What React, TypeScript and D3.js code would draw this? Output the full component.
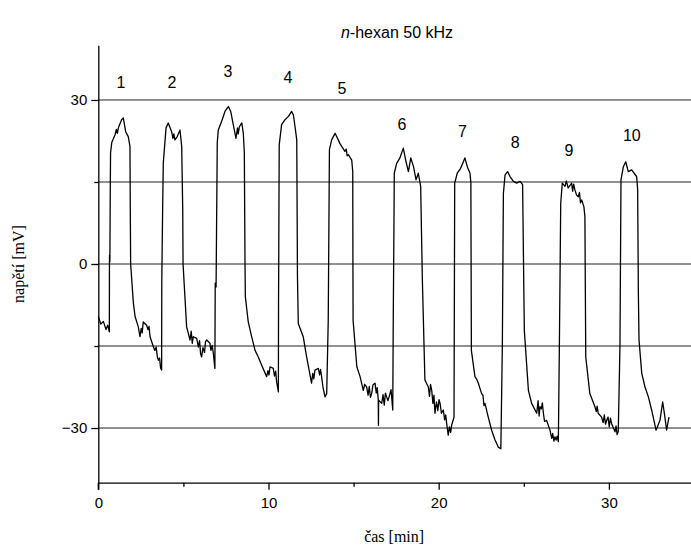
import * as React from 'react';
import {useEffect, useRef} from 'react';
import * as d3 from 'd3';

const width = 691;
const height = 548;

// trace, one array per pulse: [time min, voltage mV]
const cycle1 = [
  [0, -9.6], [0.15, -11], [0.3, -10.5], [0.45, -12], [0.55, -11.2], [0.65, -12.4], [0.655, 0], [0.66, 1.6], [0.68, 0.4],
  [0.70, 12], [0.72, 20.3], [0.79, 22.2], [0.98, 23.6], [1.06, 24.6], [1.12, 23.9], [1.18, 24.9], [1.37, 26.4], [1.47, 26.7],
  [1.61, 24.2], [1.76, 23.3], [1.86, 21.5], [1.88, 10], [1.90, 0], [2.06, -7.1], [2.16, -9.6], [2.35, -11.5], [2.45, -13.3],
  [2.52, -11.8], [2.58, -12.6], [2.64, -10.6], [2.84, -11.2], [2.92, -12.0], [2.98, -11.4], [3.04, -13.3], [3.23, -15.1],
  [3.32, -15.8], [3.40, -15.2], [3.47, -17.0], [3.53, -17.6], [3.60, -17.2], [3.66, -19.0], [3.72, -19.4]
];
const cycle2 = [
  [3.73, -3.2], [3.78, 10], [3.82, 18.5], [3.98, 24.9], [4.11, 25.8], [4.31, 24.2], [4.38, 23.0], [4.44, 23.8], [4.50, 22.7],
  [4.64, 23.3], [4.80, 24.5], [4.90, 21.5], [4.96, 10], [4.98, 0], [5.19, -11.5], [5.39, -13.9], [5.46, -12.3], [5.52, -14.5],
  [5.58, -13.3], [5.78, -13.6], [5.88, -15.2], [5.95, -14.0], [6.01, -16.4], [6.07, -17.0], [6.15, -15.3], [6.24, -16.2],
  [6.30, -14.2], [6.37, -13.9], [6.56, -14.5], [6.62, -15.8], [6.69, -14.9], [6.76, -16.4], [6.85, -19.1]
];
const cycle3 = [
  [6.87, -3.5], [6.92, -4.2], [6.99, 22.2], [7.05, 24.5], [7.25, 26.1], [7.44, 27.9], [7.64, 28.8], [7.78, 27.9], [7.93, 25.5],
  [8.0, 24.4], [8.09, 23.0], [8.18, 24.9], [8.22, 23.8], [8.29, 25.1], [8.43, 25.8], [8.52, 23.9], [8.58, 20.3], [8.62, 0],
  [8.64, -6.0], [8.81, -10.6], [9.01, -13.3], [9.21, -15.8], [9.40, -17.0], [9.60, -18.5], [9.89, -20.6], [9.97, -19.5],
  [10.03, -20.3], [10.09, -18.8], [10.28, -19.1], [10.35, -20.5], [10.42, -19.6], [10.48, -21.6], [10.58, -23.4]
];
const cycle4 = [
  [10.59, -7.1], [10.63, 21.8], [10.77, 25.5], [10.97, 26.4], [11.17, 27.0], [11.36, 27.9], [11.46, 27.3], [11.56, 25.1],
  [11.66, 22.7], [11.69, 5], [11.70, -2], [11.75, -10.9], [12.04, -13.3], [12.24, -17.0], [12.53, -21.8], [12.60, -20.0],
  [12.66, -21.0], [12.73, -19.4], [12.93, -19.1], [13.0, -20.3], [13.06, -19.3], [13.12, -20.6], [13.2, -22.5], [13.32, -24.3],
  [13.42, -23.7]
];
const cycle5 = [
  [13.51, -10.3], [13.58, 20.9], [13.71, 22.7], [13.91, 23.9], [14.10, 22.7], [14.2, 22.0], [14.30, 21.5], [14.49, 20.6],
  [14.57, 21.0], [14.62, 19.8], [14.69, 20.0], [14.89, 19.0], [14.95, 16.9], [14.96, 0], [14.97, -10.3], [15.19, -18.8],
  [15.38, -20.6], [15.57, -23.1], [15.65, -22.0], [15.77, -22.5], [15.85, -24.0], [15.92, -22.4], [15.99, -24.4], [16.06, -23.7],
  [16.14, -22.1], [16.26, -21.8], [16.33, -23.6], [16.39, -22.6], [16.45, -24.9], [16.46, -29.5], [16.47, -24.9], [16.65, -25.5],
  [16.73, -23.9], [16.80, -25.8], [16.87, -23.6], [16.94, -24.3], [17.02, -25.0], [17.14, -23.7], [17.2, -23.0], [17.30, -26.7]
];
const cycle6 = [
  [17.33, -10], [17.37, 6.8], [17.39, 16.6], [17.53, 18.4], [17.72, 19.4], [17.92, 21.2], [18.08, 18.7], [18.22, 16.9],
  [18.36, 19.4], [18.52, 17.8], [18.67, 15.4], [18.80, 16.6], [18.94, 14.2], [19.04, -2.9], [19.19, -21.2], [19.39, -22.5],
  [19.46, -24.2], [19.52, -22.0], [19.59, -23.1], [19.66, -25.5], [19.72, -24.0], [19.78, -27.3], [19.87, -25.2], [19.95, -26.8],
  [20.02, -24.8], [20.08, -25.5], [20.16, -27.3], [20.27, -26.7], [20.35, -28.5], [20.41, -27.6], [20.47, -29.2], [20.56, -31.3],
  [20.63, -29.8], [20.70, -30.8], [20.76, -29.5]
];
const cycle7 = [
  [20.90, -28], [20.94, 14.8], [21.09, 16.6], [21.29, 17.5], [21.45, 18.7], [21.54, 19.4], [21.68, 17.8], [21.84, 16.6],
  [21.89, 14.8], [21.92, -15.8], [22.13, -20.6], [22.22, -21.0], [22.33, -21.8], [22.52, -23.7], [22.6, -24.0], [22.66, -25.9],
  [22.72, -25.5], [22.91, -28.0], [23.11, -30.4], [23.31, -32.2], [23.4, -32.8], [23.50, -33.5], [23.65, -33.8]
];
const cycle8 = [
  [23.74, -15], [23.80, 12.9], [23.90, 16.3], [24.05, 16.9], [24.19, 16.0], [24.39, 15.1], [24.58, 14.8], [24.78, 15.1],
  [24.93, 14.5], [25.03, -12.1], [25.27, -23.1], [25.46, -25.5], [25.76, -27.3], [25.84, -25.0], [25.90, -27.8], [25.95, -26.1],
  [26.03, -26.5], [26.09, -25.4], [26.15, -27.3], [26.22, -28.8], [26.34, -28.6], [26.54, -30.4], [26.64, -31.9], [26.70, -31.0],
  [26.77, -32.4], [26.83, -31.6], [26.9, -32.2], [26.96, -31.5], [27.03, -32.5]
];
const cycle9 = [
  [27.09, -15], [27.17, 11.1], [27.26, 14.8], [27.42, 14.2], [27.5, 15.2], [27.61, 13.9], [27.81, 14.8], [27.87, 13.3],
  [27.93, 14.6], [28.00, 13.6], [28.1, 12.6], [28.20, 12.3], [28.27, 13.1], [28.33, 11.2], [28.40, 11.7], [28.53, 10.5],
  [28.59, 8.7], [28.64, -17.0], [28.88, -23.7], [29.18, -26.1], [29.26, -27.0], [29.31, -26.0], [29.37, -27.3], [29.57, -28.0],
  [29.66, -29.0], [29.73, -27.6], [29.80, -29.3], [29.87, -28.6], [29.95, -28.0], [30.02, -29.8], [30.09, -28.2], [30.16, -29.2],
  [30.36, -30.7], [30.42, -29.6], [30.48, -31.2], [30.55, -30.7]
];
const cycle10 = [
  [30.65, -15], [30.71, 15.4], [30.85, 17.8], [30.99, 18.7], [31.14, 16.9], [31.34, 17.2], [31.48, 16.6], [31.63, 16.0],
  [31.69, 13.6], [31.73, -5], [31.77, -13.9], [31.93, -20.0], [32.12, -22.5], [32.32, -24.3], [32.51, -26.7], [32.77, -30.4],
  [33.00, -28.6], [33.16, -25.2], [33.29, -28.0], [33.39, -30.4], [33.53, -28.0]
];

// pulse numbers and where they sit (data coords)
const pulseLabels = ['1', '2', '3', '4', '5', '6', '7', '8', '9', '10'];
const pulseLabelX = [1.33, 4.33, 7.62, 11.14, 14.32, 17.84, 21.4, 24.5, 27.65, 31.35];
const pulseLabelY = [33.3, 33.3, 35.2, 34.2, 32.2, 25.5, 24.2, 22.2, 20.7, 23.6];

const xMajor = [0, 10, 20, 30];
const xMinor = [5, 15, 25];
const yMajor = [-30, 0, 30];
const yMinor = [-15, 15];
const gridValues = [-30, -15, 0, 15, 30];

const sans = 'Arial, "Liberation Sans", sans-serif';
const serif = '"Times New Roman", "Liberation Serif", serif';

export default function App() {
  const ref = useRef<SVGSVGElement>(null);

  useEffect(() => {
    const svg = d3.select(ref.current);
    svg.selectAll('*').remove();

    const x = d3.scaleLinear().domain([0, 35]).range([98.3, 98.3 + 35 * 17.02]);
    const y = d3.scaleLinear().domain([-40, 40]).range([482.7, 45.3]);

    // grid lines
    svg.append('g')
      .selectAll('line')
      .data(gridValues)
      .join('line')
        .attr('x1', x(0))
        .attr('x2', width)
        .attr('y1', d => y(d))
        .attr('y2', d => y(d))
        .attr('stroke', '#222')
        .attr('stroke-width', 1);

    // x axis
    const gx = svg.append('g').attr('transform', `translate(0,${y(-40)})`);
    gx.call(d3.axisBottom(x).tickValues(xMajor).tickSize(7).tickSizeOuter(0).tickPadding(8) as any);
    gx.append('g').call(d3.axisBottom(x).tickValues(xMinor).tickSize(4).tickSizeOuter(0).tickFormat(() => '') as any)
      .select('.domain').remove();
    gx.selectAll('text').attr('font-family', sans).attr('font-size', 15).attr('fill', '#000');
    gx.selectAll('path,line').attr('stroke', '#000').attr('stroke-width', 1.3);

    // y axis
    const gy = svg.append('g').attr('transform', `translate(${x(0)},0)`);
    gy.call(d3.axisLeft(y).tickValues(yMajor).tickSize(7).tickSizeOuter(0).tickPadding(4) as any);
    gy.append('g').call(d3.axisLeft(y).tickValues(yMinor).tickSize(4).tickSizeOuter(0).tickFormat(() => '') as any)
      .select('.domain').remove();
    gy.selectAll('text').attr('font-family', sans).attr('font-size', 15).attr('fill', '#000');
    gy.selectAll('path,line').attr('stroke', '#000').attr('stroke-width', 1.3);
    // tick below the origin
    gy.append('line')
      .attr('x1', 0).attr('x2', 0)
      .attr('y1', y(-40)).attr('y2', y(-40) + 7)
      .attr('stroke', '#000').attr('stroke-width', 1.3);

    // signal trace
    const pts = [cycle1, cycle2, cycle3, cycle4, cycle5, cycle6, cycle7, cycle8, cycle9, cycle10]
      .flat() as [number, number][];
    const line = d3.line<[number, number]>().x(d => x(d[0])).y(d => y(d[1]));
    svg.append('path')
      .datum(pts)
      .attr('d', line)
      .attr('fill', 'none')
      .attr('stroke', '#000')
      .attr('stroke-width', 1.3)
      .attr('stroke-linejoin', 'round');

    // pulse numbers
    svg.append('g')
      .selectAll('text')
      .data(pulseLabels)
      .join('text')
        .attr('x', (_, i) => x(pulseLabelX[i]))
        .attr('y', (_, i) => y(pulseLabelY[i]))
        .attr('dy', '0.35em')
        .attr('text-anchor', 'middle')
        .attr('font-family', sans)
        .attr('font-size', 16)
        .text(d => d);

    // title
    const title = svg.append('text')
      .attr('x', 397)
      .attr('y', 38)
      .attr('text-anchor', 'middle')
      .attr('font-family', sans)
      .attr('font-size', 16);
    title.append('tspan').attr('font-style', 'italic').text('n');
    title.append('tspan').text('-hexan 50 kHz');

    // axis titles
    svg.append('text')
      .attr('x', x(17.5) - 2)
      .attr('y', 542)
      .attr('text-anchor', 'middle')
      .attr('font-family', serif)
      .attr('font-size', 16)
      .text('čas [min]');

    svg.append('text')
      .attr('transform', `translate(24,${y(0)}) rotate(-90)`)
      .attr('text-anchor', 'middle')
      .attr('font-family', serif)
      .attr('font-size', 16)
      .text('napětí [mV]');
  }, []);

  return (
    <svg ref={ref} width={width} height={height}
      style={{position: 'absolute', left: 0, top: 0, background: '#fff'}} />
  );
}
